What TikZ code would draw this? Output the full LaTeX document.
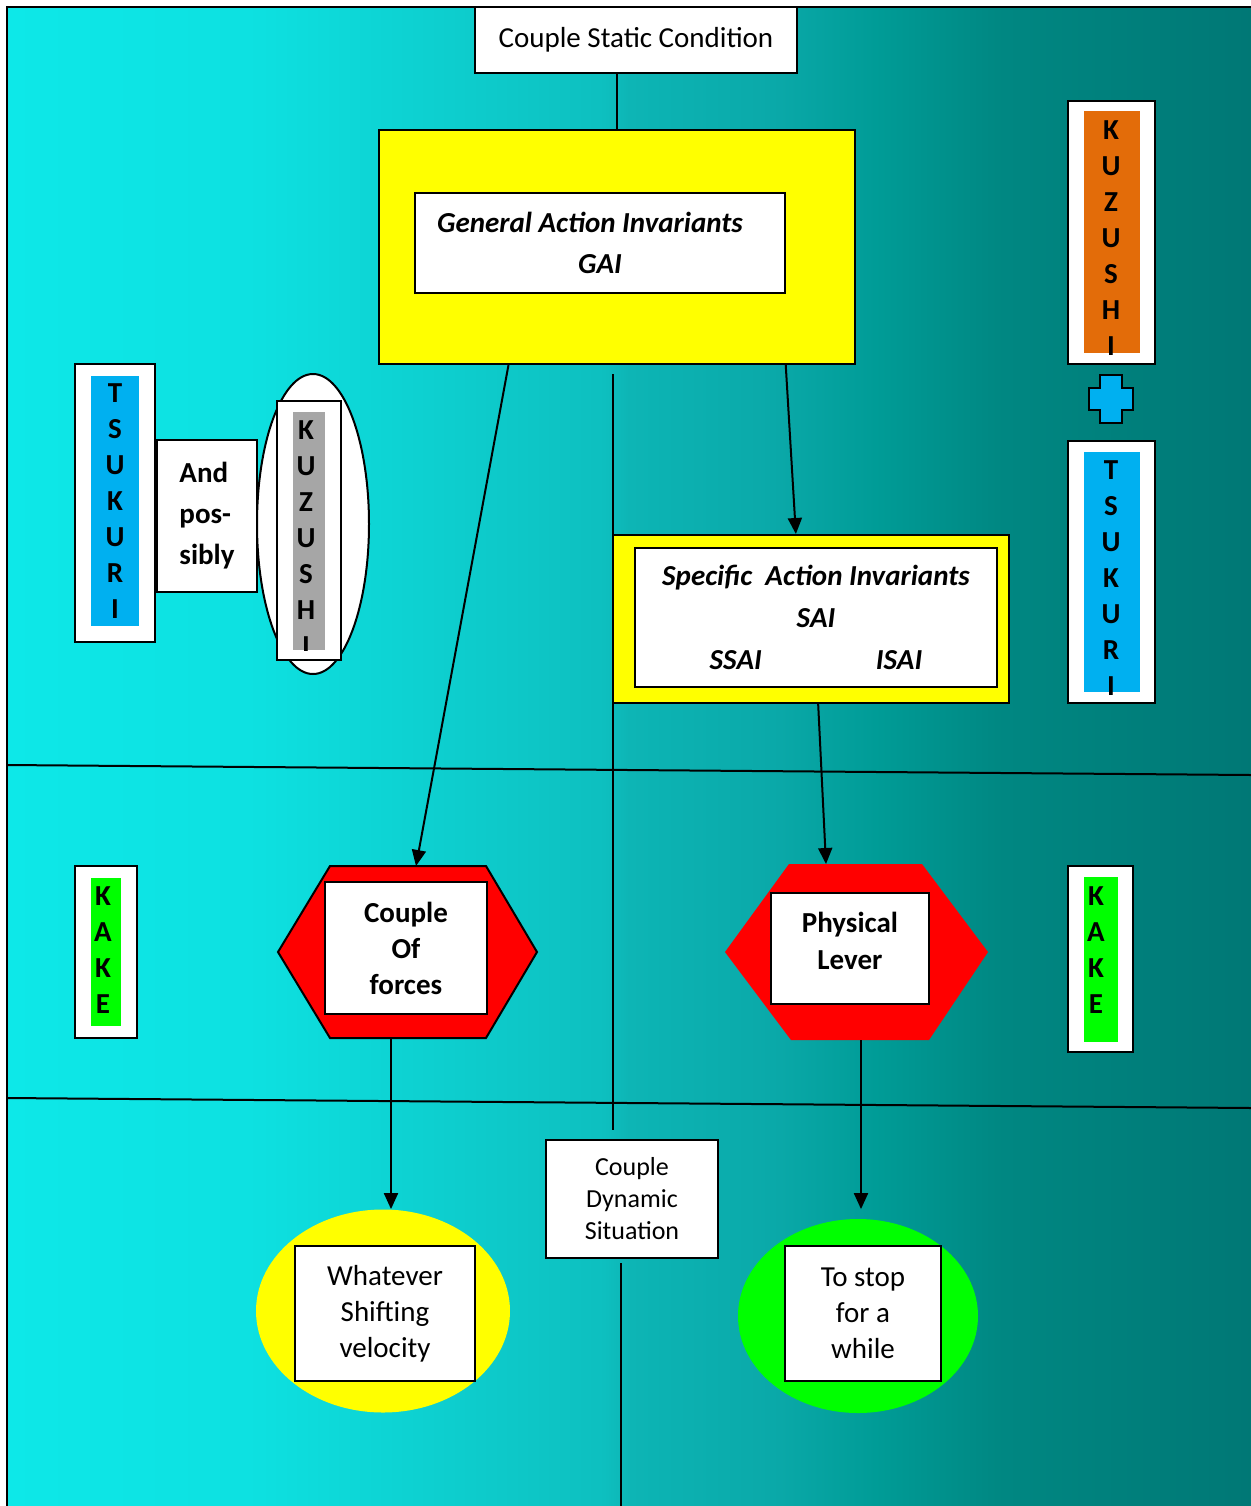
\documentclass[tikz,border=0pt]{standalone}
\usepackage{fontspec}
\setmainfont{Carlito}
\usetikzlibrary{shapes.geometric,arrows.meta,calc}

\definecolor{kblue}{RGB}{0,176,240}
\definecolor{kgreen}{RGB}{0,255,0}
\definecolor{kgray}{RGB}{166,166,166}
\definecolor{korange}{RGB}{227,108,9}
\definecolor{kyellow}{RGB}{255,255,0}
\pgfdeclarehorizontalshading{bgshade}{100bp}{rgb(0bp)=(0.05,0.91,0.91); rgb(25bp)=(0.05,0.91,0.91); rgb(35bp)=(0.05,0.88,0.88); rgb(49bp)=(0.05,0.75,0.75); rgb(50bp)=(0.05,0.71,0.71); rgb(56bp)=(0.04,0.66,0.66); rgb(60bp)=(0,0.61,0.59); rgb(65bp)=(0,0.53,0.51); rgb(75bp)=(0,0.47,0.46); rgb(100bp)=(0,0.47,0.46)}
\newcommand\dsize{\fontsize{14.5}{18}\selectfont}

\begin{document}
\begin{tikzpicture}[x=0.5pt,y=-0.5pt,
    every node/.style={font=\dsize,inner sep=0pt},
    wbox/.style={draw,fill=white,line width=1pt,align=center},
    ybox/.style={draw,fill=kyellow,line width=1pt},
    stack/.style={font=\dsize\bfseries,align=center},
    line/.style={line width=1pt},
    arr/.style={line width=1pt,-{Triangle[length=8pt,width=7pt]}}]
    \useasboundingbox (0,0) rectangle (1251,1506);
    \shade[shading=bgshade] (7,7) rectangle (1251,1506);
    \draw[line] (7,1506) -- (7,7) -- (1251,7);

    % dividing lines
    \coordinate (h1w) at (7,765);
    \coordinate (h1e) at (1251,775);
    \coordinate (h2w) at (7,1098);
    \coordinate (h2e) at (1251,1108);
    \coordinate (v1) at (613,374);
    \coordinate (v2) at (613,1130);
    \coordinate (v3) at (621,1263);
    \coordinate (v4) at (621,1506);
    \draw[line] (h1w) -- (h1e);
    \draw[line] (h2w) -- (h2e);
    \draw[line] (v1) -- (v2);
    \draw[line] (v3) -- (v4);

    % top part
    \node[wbox,minimum width=161pt,minimum height=33pt] (top) at (636,40) {Couple Static Condition};
    \node[ybox,minimum width=238pt,minimum height=117pt] (gaibg) at (617,247) {};
    \node[wbox,minimum width=185pt,minimum height=50pt,font=\dsize\bfseries\itshape] (gai) at (600,243) {General Action Invariants\hspace*{10pt}\\[2.5pt]GAI};
    \node[ybox,minimum width=198pt,minimum height=84pt] (saibg) at (811,619) {};
    \node[wbox,minimum width=181pt,minimum height=69.5pt,font=\dsize\bfseries\itshape] (sai) at (816,617.5) {Specific\ \ Action Invariants\\[3pt]SAI\\[3pt]SSAI\hspace{57pt}ISAI};

    % left: tsukuri and possibly kuzushi
    \node[wbox,minimum width=40pt,minimum height=139pt] (tsLo) at (115,503) {};
    \node[fill=kblue,minimum width=24pt,minimum height=125pt] (tsL) at (115,501) {};
    \node[stack] (tsLt) at (115,501) {T\\S\\U\\K\\U\\R\\I};
    \node[wbox,align=left,minimum width=50pt,minimum height=76pt,font=\dsize\bfseries] (and) at (207,516) {And\\[2.5pt]pos-\\[2.5pt]sibly};
    \node[ellipse,draw,fill=white,line width=1pt,minimum width=56pt,minimum height=150pt] (kzLe) at (313,524) {};
    \node[wbox,minimum width=32pt,minimum height=129.5pt] (kzLo) at (309,530.5) {};
    \node[fill=kgray,minimum width=16pt,minimum height=119pt] (kzL) at (309,531) {};
    \begin{scope}
        \clip (kzL.south west) rectangle (kzL.north east);
        \node[stack] (kzLt) at (306,538.5) {K\\U\\Z\\U\\S\\H\\I};
    \end{scope}

    % right: kuzushi + tsukuri
    \node[wbox,minimum width=43.5pt,minimum height=131.5pt] (kzRo) at (1111.5,232.5) {};
    \node[fill=korange,minimum width=28pt,minimum height=121pt] (kzR) at (1112,232) {};
    \node[stack] (kzRt) at (1111,238.5) {K\\U\\Z\\U\\S\\H\\I};
    \filldraw[fill=kblue,line width=1pt] (1100,375) -- (1122,375) -- (1122,388) -- (1133,388) -- (1133,410) -- (1122,410)
        -- (1122,423) -- (1100,423) -- (1100,410) -- (1089,410) -- (1089,388) -- (1100,388) -- cycle;
    \node[wbox,minimum width=43.5pt,minimum height=131pt] (tsRo) at (1111.5,572) {};
    \node[fill=kblue,minimum width=28pt,minimum height=120pt] (tsR) at (1112,572) {};
    \node[stack] (tsRt) at (1111,578) {T\\S\\U\\K\\U\\R\\I};

    % kake
    \node[wbox,minimum width=31pt,minimum height=86pt] (kkLo) at (106,952) {};
    \node[fill=kgreen,minimum width=15pt,minimum height=74pt] (kkL) at (106,952) {};
    \node[stack] (kkLt) at (103,950) {K\\A\\K\\E};
    \node[wbox,minimum width=32.5pt,minimum height=93pt] (kkRo) at (1100.5,959) {};
    \node[fill=kgreen,minimum width=17pt,minimum height=82.5pt] (kkR) at (1101,959.5) {};
    \node[stack] (kkRt) at (1096,950) {K\\A\\K\\E};

    % hexagons
    \filldraw[fill=red,line width=1pt] (278,952) -- (330,866) -- (486,866) -- (537,952) -- (486,1038) -- (330,1038) -- cycle;
    \fill[red] (725,952) -- (789,864) -- (922,864) -- (988,952) -- (929,1040) -- (791,1040) -- cycle;
    \coordinate (cofN) at (416,866);
    \coordinate (cofS) at (391,1038);
    \coordinate (plN) at (826,864);
    \coordinate (plS) at (861,1040);
    \node[wbox,minimum width=81pt,minimum height=66pt,font=\dsize\bfseries] (cof) at (406,948) {Couple\\Of\\forces};
    \node[wbox,minimum width=79pt,minimum height=55.5pt,font=\dsize\bfseries] (pl) at (850,948.5) {Physical\\[0.5pt]Lever\\[-10pt]\mbox{}};

    % bottom
    \node[ellipse,fill=kyellow,minimum width=127pt,minimum height=101.5pt] (yel) at (383,1311) {};
    \node[wbox,minimum width=90pt,minimum height=67.5pt] (wsv) at (385,1313.5) {Whatever\\Shifting\\velocity};
    \node[ellipse,fill=kgreen,minimum width=120pt,minimum height=97pt] (grn) at (858,1316) {};
    \node[wbox,minimum width=78pt,minimum height=67.5pt] (tsw) at (863,1313.5) {To stop\\for a\\while};
    \node[wbox,minimum width=86pt,minimum height=59pt,font=\fontsize{13}{16}\selectfont] (cds) at (632,1199) {Couple\\Dynamic\\Situation};

    % connectors
    \draw[line] (gaibg.north) -- (gaibg.north |- top.south);
    \draw[arr] ($(gaibg.south west)!0.273!(gaibg.south east)$) -- (cofN);
    \draw[arr] ($(gaibg.south west)!0.853!(gaibg.south east)$) -- ($(saibg.north west)!0.462!(saibg.north east)$);
    \draw[arr] ($(saibg.south west)!0.518!(saibg.south east)$) -- (plN);
    \draw[arr] (cofS) -- (cofS |- yel.north);
    \draw[arr] (plS) -- (plS |- yel.north);
\end{tikzpicture}
\end{document}
